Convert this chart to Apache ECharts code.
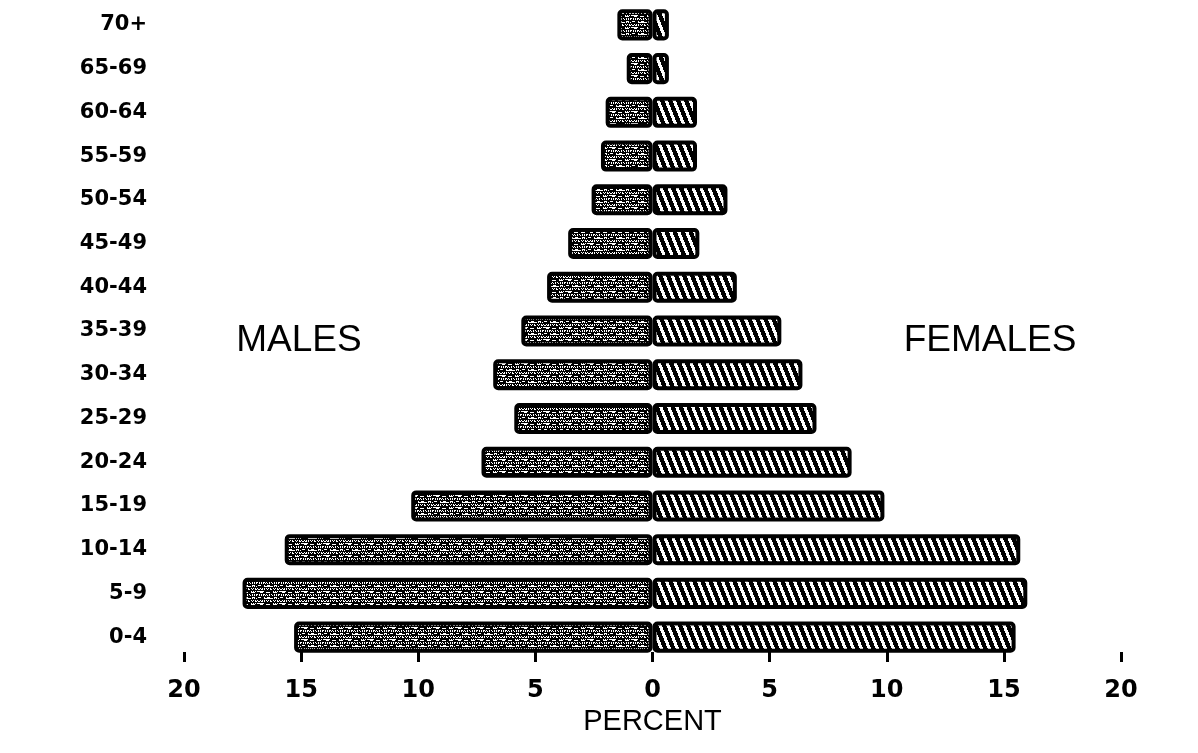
<!DOCTYPE html>
<html><head><meta charset="utf-8">
<script src="https://cdn.jsdelivr.net/npm/echarts@6/dist/echarts.min.js"></script>
<style>html,body{margin:0;padding:0;background:#fff}#c{width:1198px;height:753px}</style>
</head><body><div id="c"></div>
<script>
// ---- data ----
const ageGroups = ['0-4','5-9','10-14','15-19','20-24','25-29','30-34','35-39','40-44','45-49','50-54','55-59','60-64','65-69','70+'];
const malesPct   = [15.3, 17.5, 15.7, 10.3, 7.3, 5.9, 6.8, 5.6, 4.5, 3.6, 2.6, 2.2, 2.0, 1.1, 1.5];
const femalesPct = [15.5, 16.0, 15.7,  9.9, 8.5, 7.0, 6.4, 5.5, 3.6, 2.0, 3.2, 1.9, 1.9, 0.7, 0.7];
const axisMin = -20, axisMax = 20, axisStep = 5;
const sideLabels = ['MALES', 'FEMALES'];
const axisTitle = 'PERCENT';

// ---- fill textures ----
function makeCanvas(w, h, isWhite) {
  const c = document.createElement('canvas');
  c.width = w; c.height = h;
  const ctx = c.getContext('2d');
  const img = ctx.createImageData(w, h);
  for (let y = 0; y < h; y++) for (let x = 0; x < w; x++) {
    const v = isWhite(x, y) ? 255 : 0;
    const i = (y * w + x) * 4;
    img.data[i] = v; img.data[i+1] = v; img.data[i+2] = v; img.data[i+3] = 255;
  }
  ctx.putImageData(img, 0, 0);
  return c;
}
const hatch = makeCanvas(8, 20, (x, y) => {
  const t = (((x - 0.4 * y) % 8) + 8) % 8;
  return t < 3.2;
});
const stipple = makeCanvas(22, 12, (x, y) => {
  if (y % 3 === 2) return false;
  return ((x * 5 + y * 11 + (x * y) % 7) % 9) < 4;
});

const chart = echarts.init(document.getElementById('c'));
chart.setOption({
  animation: false,
  backgroundColor: '#fff',
  grid: { left: 184, right: 77, top: 3, bottom: 94 },
  xAxis: {
    type: 'value', min: axisMin, max: axisMax, interval: axisStep,
    offset: -7,
    axisLine: { show: false },
    axisTick: { show: true, length: 10, lineStyle: { color: '#000', width: 3 } },
    splitLine: { show: false },
    axisLabel: {
      color: '#000', fontFamily: 'DejaVu Sans', fontWeight: 'bold', fontSize: 24, margin: 27,
      formatter: v => String(Math.abs(v))
    },
    name: axisTitle, nameLocation: 'middle', nameGap: 52,
    nameTextStyle: { color: '#000', fontFamily: 'Liberation Sans', fontSize: 29 }
  },
  yAxis: {
    type: 'category', data: ageGroups,
    axisLine: { show: false }, axisTick: { show: false }, splitLine: { show: false },
    axisLabel: { color: '#000', fontFamily: 'DejaVu Sans', fontWeight: 'bold', fontSize: 21, margin: 37 }
  },
  series: [
    {
      name: 'Males', type: 'bar', stack: 'pop', barCategoryGap: '29%',
      data: malesPct.map(v => -v),
      itemStyle: { color: { image: stipple, repeat: 'repeat' }, borderColor: '#000', borderWidth: 4, borderRadius: 3 }
    },
    {
      name: 'Females', type: 'bar', stack: 'pop', barCategoryGap: '29%',
      data: femalesPct,
      itemStyle: { color: { image: hatch, repeat: 'repeat' }, borderColor: '#000', borderWidth: 4, borderRadius: 3 }
    }
  ],
  graphic: [
    { type: 'text', x: 299, y: 341, style: { text: sideLabels[0], font: '37px "Liberation Sans"', fill: '#000', align: 'center', verticalAlign: 'middle' } },
    { type: 'text', x: 990, y: 341, style: { text: sideLabels[1], font: '37px "Liberation Sans"', fill: '#000', align: 'center', verticalAlign: 'middle' } }
  ]
});
</script></body></html>
